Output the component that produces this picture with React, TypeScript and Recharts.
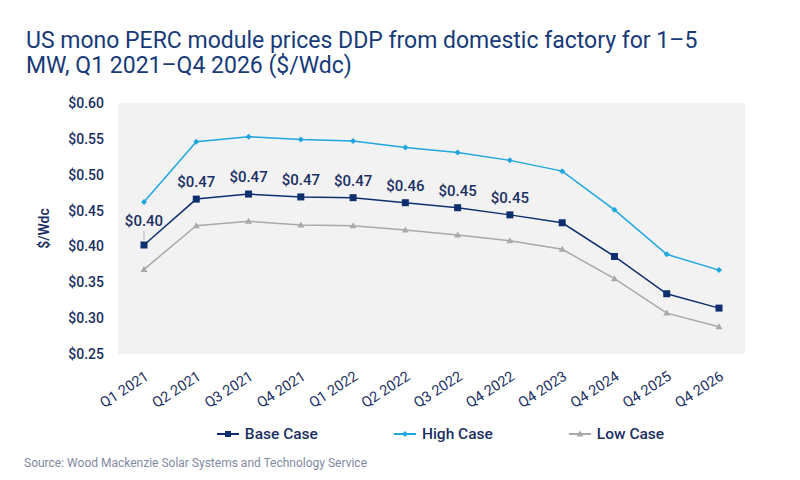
import { LineChart, Line, XAxis, YAxis, CartesianGrid, Legend, LabelList } from "recharts";

const quarters = ["Q1 2021", "Q2 2021", "Q3 2021", "Q4 2021", "Q1 2022", "Q2 2022", "Q3 2022", "Q4 2022", "Q4 2023", "Q4 2024", "Q4 2025", "Q4 2026"];
const baseCase = [0.402, 0.466, 0.473, 0.469, 0.468, 0.461, 0.454, 0.444, 0.433, 0.386, 0.334, 0.314];
const highCase = [0.462, 0.546, 0.553, 0.549, 0.547, 0.538, 0.531, 0.520, 0.505, 0.451, 0.389, 0.367];
const lowCase = [0.368, 0.429, 0.435, 0.430, 0.429, 0.423, 0.416, 0.408, 0.396, 0.355, 0.307, 0.288];
const baseLabels = ["$0.40", "$0.47", "$0.47", "$0.47", "$0.47", "$0.46", "$0.45", "$0.45", "", "", "", ""];
const yTicks = [0.25, 0.3, 0.35, 0.4, 0.45, 0.5, 0.55, 0.6];

const NAVY = "#0e2f6e";
const BLUE = "#1fa6df";
const GREY = "#a9a9a9";
const TEXT = "#1b2f63";
const FONT = "Roboto, 'Noto Sans', sans-serif";

const data = quarters.map((q, i) => ({
  quarter: q,
  base: baseCase[i],
  high: highCase[i],
  low: lowCase[i],
  label: baseLabels[i],
}));

const SquareDot = (props: any) => {
  const { cx, cy } = props;
  if (cx == null || cy == null) return null;
  return <rect x={cx - 3.5} y={cy - 3.5} width={7} height={7} fill={NAVY} />;
};

const DiamondDot = (props: any) => {
  const { cx, cy } = props;
  if (cx == null || cy == null) return null;
  return <polygon points={`${cx},${cy - 3} ${cx + 3},${cy} ${cx},${cy + 3} ${cx - 3},${cy}`} fill={BLUE} />;
};

const TriangleDot = (props: any) => {
  const { cx, cy } = props;
  if (cx == null || cy == null) return null;
  return <polygon points={`${cx},${cy - 3.5} ${cx + 3.5},${cy + 2.5} ${cx - 3.5},${cy + 2.5}`} fill={GREY} />;
};

const BaseLabel = (props: any) => {
  const { x, y, value, index } = props;
  if (!value) return null;
  if (index === 0) {
    return (
      <g>
        <line x1={x} y1={y - 14} x2={x} y2={y - 5} stroke="#b0b0b0" strokeWidth={1} />
        <text x={x} y={y - 19} textAnchor="middle" fill={TEXT} fontSize={15} fontFamily={FONT} fontWeight={500}>
          {value}
        </text>
      </g>
    );
  }
  return (
    <text x={x} y={y - 12} textAnchor="middle" fill={TEXT} fontSize={15} fontFamily={FONT} fontWeight={500}>
      {value}
    </text>
  );
};

const XTick = (props: any) => {
  const { x, y, payload } = props;
  return (
    <text x={x} y={y + 8} transform={`rotate(-33, ${x}, ${y + 8})`} textAnchor="end" dominantBaseline="hanging" fill={TEXT} fontSize={14.5} fontFamily={FONT}>
      {payload.value}
    </text>
  );
};

const legendItems = [
  { name: "Base Case", color: NAVY, shape: "square" },
  { name: "High Case", color: BLUE, shape: "diamond" },
  { name: "Low Case", color: GREY, shape: "triangle" },
];

const LegendContent = () => (
  <div style={{ display: "flex", justifyContent: "center", gap: 76, paddingLeft: 76, fontFamily: FONT, fontSize: 15.5, fontWeight: 500, color: TEXT, lineHeight: "18px" }}>
    {legendItems.map((item) => (
      <div key={item.name} style={{ display: "flex", alignItems: "center", gap: 6 }}>
        <svg width={22} height={10}>
          <line x1={0} y1={5} x2={22} y2={5} stroke={item.color} strokeWidth={2} />
          {item.shape === "square" && <rect x={8} y={2} width={6} height={6} fill={item.color} />}
          {item.shape === "diamond" && <polygon points="11,2 14,5 11,8 8,5" fill={item.color} />}
          {item.shape === "triangle" && <polygon points="11,1.5 14.5,7.5 7.5,7.5" fill={item.color} />}
        </svg>
        <span>{item.name}</span>
      </div>
    ))}
  </div>
);

export default function App() {
  return (
    <div style={{ position: "absolute", left: 0, top: 0, width: 800, height: 480, background: "#fff", fontFamily: FONT }}>
      <div style={{ position: "absolute", left: 26, top: 28, width: 760, color: "#183a78", fontSize: 23, fontWeight: 400, lineHeight: "25px" }}>
        US mono PERC module prices DDP from domestic factory for 1–5
        <br />
        MW, Q1 2021–Q4 2026 ($/Wdc)
      </div>
      <LineChart width={800} height={480} data={data} margin={{ top: 103, right: 55, bottom: 37, left: 60 }} style={{ position: "absolute", left: 0, top: 0 }}>
        <CartesianGrid horizontal={false} vertical={false} fill="#f2f2f2" />
        <XAxis dataKey="quarter" axisLine={false} tickLine={false} padding={{ left: 26, right: 26 }} interval={0} height={71} tick={<XTick />} />
        <YAxis
          domain={[0.25, 0.6]}
          ticks={yTicks}
          width={58}
          axisLine={false}
          tickLine={false}
          tickMargin={8}
          tickFormatter={(v: number) => `$${v.toFixed(2)}`}
          tick={{ fill: TEXT, fontSize: 14, fontWeight: 500, fontFamily: FONT }}
          label={{ value: "$/Wdc", angle: -90, position: "insideLeft", offset: -16, style: { fill: TEXT, fontSize: 14, fontWeight: 600, fontFamily: FONT, textAnchor: "middle" } }}
        />
        <Legend verticalAlign="bottom" content={<LegendContent />} />
        <Line dataKey="high" name="High Case" stroke={BLUE} strokeWidth={1.5} dot={<DiamondDot />} isAnimationActive={false} />
        <Line dataKey="low" name="Low Case" stroke={GREY} strokeWidth={1.5} dot={<TriangleDot />} isAnimationActive={false} />
        <Line dataKey="base" name="Base Case" stroke={NAVY} strokeWidth={1.5} dot={<SquareDot />} isAnimationActive={false}>
          <LabelList dataKey="label" content={<BaseLabel />} />
        </Line>
      </LineChart>
      <div style={{ position: "absolute", left: 24, top: 456, color: "#7f8aa3", fontSize: 12 }}>
        Source: Wood Mackenzie Solar Systems and Technology Service
      </div>
    </div>
  );
}
